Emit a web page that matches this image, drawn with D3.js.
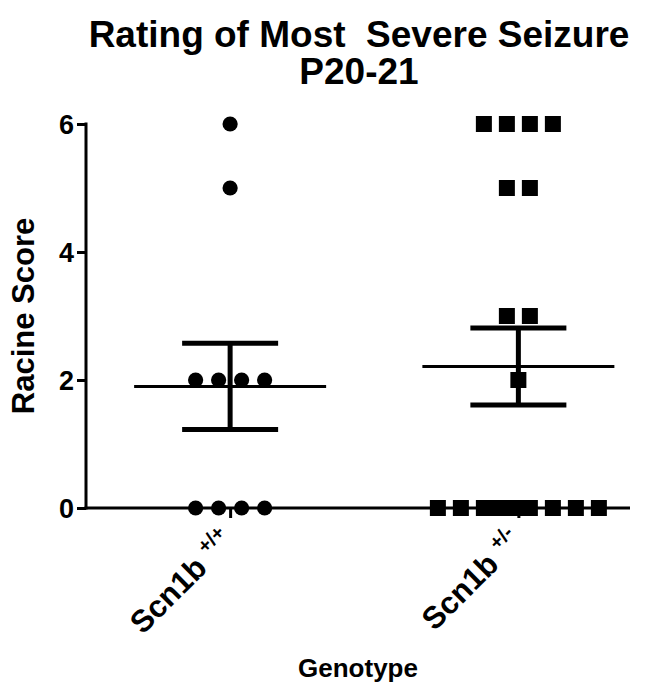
<!DOCTYPE html>
<html>
<head>
<meta charset="utf-8">
<script src="https://cdn.jsdelivr.net/npm/d3@7"></script>
<style>
  html, body { margin: 0; padding: 0; background: #fff; }
  svg text { font-family: "Liberation Sans", Arial, sans-serif; font-weight: bold; fill: #000; white-space: pre; }
</style>
</head>
<body>
<svg id="chart" width="660" height="692"></svg>
<script>
// ---- data ----
const categories = ["Scn1b +/+", "Scn1b +/-"];
const categoryBase = ["Scn1b", "Scn1b"];
const categorySup = ["+/+", "+/-"];
const wildType = [0, 0, 0, 0, 2, 2, 2, 2, 5, 6];
const heterozygous = [0, 0, 0, 0, 0, 0, 0, 0, 0, 0, 2, 3, 3, 5, 5, 6, 6, 6, 6];
const yTicks = [0, 2, 4, 6];
const titleLines = ["Rating of Most  Severe Seizure", "P20-21"];
const yLabel = "Racine Score";
const xLabel = "Genotype";

const groups = [wildType, heterozygous];
const shapes = ["circle", "square"];

const svg = d3.select("#chart");

const axisLeftX = 86, axisRightX = 630;
const y = d3.scaleLinear().domain([0, 6]).range([508, 124]);
const x = d3.scalePoint().domain(categories).range([axisLeftX, 662.5]).padding(0.5);

// Title (one text block, two lines)
const title = svg.append("text").attr("text-anchor", "middle")
  .attr("xml:space", "preserve").style("font-size", "37px");
title.append("tspan").attr("x", 359).attr("y", 47).text(titleLines[0]);
title.append("tspan").attr("x", 359).attr("y", 84).text(titleLines[1]);

// Y axis
const yAxis = svg.append("g").attr("transform", `translate(${axisLeftX},0)`)
  .call(d3.axisLeft(y).tickValues(yTicks).tickFormat(d3.format("d")).tickSize(9).tickSizeOuter(0).tickPadding(3));
yAxis.attr("font-size", null).attr("font-family", null);
yAxis.select(".domain").attr("stroke", "#000").attr("stroke-width", 3).attr("d", `M0,${y(6) - 1.5}V${y(0) + 1.5}`);
yAxis.selectAll(".tick line").attr("stroke", "#000").attr("stroke-width", 3);
yAxis.selectAll(".tick text").style("font-size", "27px").attr("dy", "0.36em");

// X axis
const xAxis = svg.append("g").attr("transform", `translate(0,${y(0)})`)
  .call(d3.axisBottom(x).tickSize(10).tickSizeOuter(0).tickFormat(""));
xAxis.select(".domain").attr("stroke", "#000").attr("stroke-width", 3).attr("d", `M${axisLeftX - 1.5},0H${axisRightX}`);
xAxis.selectAll(".tick line").attr("stroke", "#000").attr("stroke-width", 3);

// Category labels (rotated, with superscript)
categories.forEach((c, i) => {
  const t = svg.append("text")
    .attr("transform", `translate(${x(c) + 5},${y(0) + 35}) rotate(-45)`)
    .attr("text-anchor", "end")
    .style("font-size", "31px");
  t.append("tspan").text(categoryBase[i] + " ");
  t.append("tspan").attr("dy", -13).style("font-size", "20px").text(categorySup[i]);
});

// Axis titles
svg.append("text").attr("transform", `translate(34,${(y(0) + y(6)) / 2}) rotate(-90)`)
  .attr("text-anchor", "middle").style("font-size", "31px").text(yLabel);
svg.append("text").attr("x", 358).attr("y", 677).attr("text-anchor", "middle")
  .style("font-size", "26px").text(xLabel);

// Point layout: rows of equal values spread horizontally
const spacing = 23, maxSlots = 8;
function layout(values) {
  const rows = d3.group(values, v => v);
  const pts = [];
  for (const [v, arr] of rows) {
    const n = arr.length;
    if (n <= maxSlots) {
      for (let i = 0; i < n; i++) pts.push({ v, off: (i - (n - 1) / 2) * spacing });
    } else {
      for (let i = 0; i < maxSlots; i++) pts.push({ v, off: (i - (maxSlots - 1) / 2) * spacing });
      for (let j = 0; j < n - maxSlots; j++) pts.push({ v, off: (-1 + j) * spacing });
    }
  }
  return pts;
}

// Mean & SEM lines
groups.forEach((vals, i) => {
  const cx = x(categories[i]);
  const m = d3.mean(vals);
  const sem = d3.deviation(vals) / Math.sqrt(vals.length);
  const g = svg.append("g");
  g.append("line").attr("x1", cx - 96).attr("x2", cx + 96).attr("y1", y(m)).attr("y2", y(m))
    .attr("stroke", "#000").attr("stroke-width", 3);
  g.append("line").attr("x1", cx).attr("x2", cx).attr("y1", y(m + sem)).attr("y2", y(m - sem))
    .attr("stroke", "#000").attr("stroke-width", 5);
  [m + sem, m - sem].forEach(v => {
    g.append("line").attr("x1", cx - 48).attr("x2", cx + 48).attr("y1", y(v)).attr("y2", y(v))
      .attr("stroke", "#000").attr("stroke-width", 5);
  });
});

// Points
groups.forEach((vals, i) => {
  const cx = x(categories[i]);
  const pts = layout(vals);
  const g = svg.append("g");
  if (shapes[i] === "circle") {
    g.selectAll("circle").data(pts).join("circle")
      .attr("cx", d => cx + d.off).attr("cy", d => y(d.v)).attr("r", 7.6).attr("fill", "#000");
  } else {
    g.selectAll("rect").data(pts).join("rect")
      .attr("x", d => cx + d.off - 8).attr("y", d => y(d.v) - 8).attr("width", 16).attr("height", 16).attr("fill", "#000");
  }
});
</script>
</body>
</html>
